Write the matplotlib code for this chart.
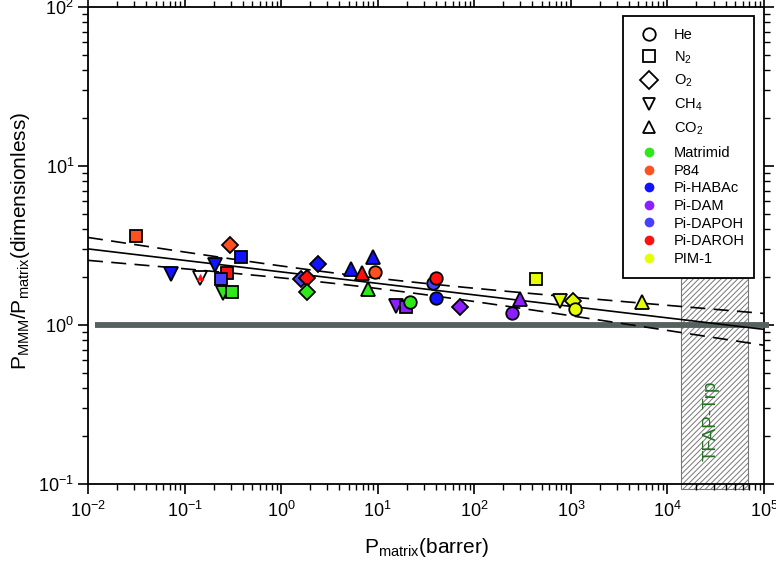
import numpy as np
import matplotlib
matplotlib.use("Agg")
import matplotlib.pyplot as plt
from matplotlib.patches import Rectangle
from matplotlib.lines import Line2D
from matplotlib.ticker import LogLocator, NullFormatter

plt.rcParams['font.family'] = ['Liberation Sans', 'DejaVu Sans']
plt.rcParams['mathtext.fontset'] = 'custom'
plt.rcParams['mathtext.rm'] = 'Liberation Sans'
plt.rcParams['mathtext.it'] = 'Liberation Sans'
plt.rcParams['mathtext.default'] = 'regular'
plt.rcParams['hatch.linewidth'] = 0.7
plt.rcParams['hatch.color'] = '#555555'

# ---------------- data ----------------
gases = ["He", "N2", "O2", "CH4", "CO2"]
gas_labels = ["He", "N$_2$", "O$_2$", "CH$_4$", "CO$_2$"]
materials = ["Matrimid", "P84", "Pi-HABAc", "Pi-DAM", "Pi-DAPOH", "Pi-DAROH", "PIM-1"]
material_colors = ["#2ee81a", "#ff5020", "#1212ff", "#8c1eff", "#4840ff", "#ff1010", "#e6ff00"]

pt_gas = ["N2", "O2", "N2", "CH4", "CH4", "CO2", "CH4", "N2", "N2", "CH4", "N2",
          "O2", "O2", "O2", "O2", "CO2", "CO2", "CO2", "He", "CO2", "CH4", "N2", "He",
          "He", "He", "He", "O2", "N2", "CO2", "He", "CH4", "O2", "He", "CO2"]
pt_mat = ["P84", "P84", "Pi-HABAc", "Pi-HABAc", "open", "Pi-DAROH", "Pi-HABAc", "Pi-DAROH",
          "Pi-DAPOH", "Matrimid", "Matrimid",
          "Pi-HABAc", "Pi-DAPOH", "Pi-DAROH", "Matrimid", "Pi-HABAc", "Pi-HABAc", "Pi-DAROH",
          "P84", "Matrimid", "Pi-DAM", "Pi-DAM", "Matrimid",
          "Pi-DAPOH", "Pi-DAROH", "Pi-HABAc", "Pi-DAM", "PIM-1", "Pi-DAM", "Pi-DAM",
          "PIM-1", "PIM-1", "PIM-1", "PIM-1"]
pt_x = [0.0313, 0.294, 0.382, 0.072, 0.144, 0.144, 0.206, 0.273, 0.237, 0.249, 0.308,
        2.39, 1.60, 1.84, 1.84, 5.25, 8.85, 6.81, 9.29, 7.87, 15.3, 19.4, 21.4,
        37.8, 40.6, 40.6, 70.3, 440, 300, 248, 778, 1062, 1112, 5480]
pt_y = [3.64, 3.19, 2.68, 2.10, 1.98, 2.01, 2.39, 2.13, 1.95, 1.59, 1.61,
        2.42, 1.95, 1.98, 1.61, 2.25, 2.68, 2.13, 2.16, 1.69, 1.32, 1.30, 1.40,
        1.84, 1.98, 1.48, 1.30, 1.95, 1.46, 1.19, 1.42, 1.42, 1.26, 1.40]

# power-law fit  y = 10**b * x**m  and its confidence band (in log10 units)
fit_slope = -0.0723
fit_logint = 0.334
band_a, band_b, band_c = 0.00103, 0.000517, 0.834

# TFAP-Trp permeability range
tfap_xmin, tfap_xmax = 1.38e4, 6.84e4
tfap_ymin, tfap_ymax = 0.093, 1.98

# ---------------- figure ----------------
W, H = 776, 562
fig = plt.figure(figsize=(W/100, H/100), dpi=100)
ax = fig.add_axes([88/W, 1-484/H, (764-88)/W, (484-7)/H])
ax.set_xscale('log')
ax.set_yscale('log')
ax.set_xlim(1e-2, 1e5)
ax.set_ylim(1e-1, 1e2)

gas_marker = {"He": "o", "N2": "s", "O2": "D", "CH4": "v", "CO2": "^"}
gas_size = {"He": 9, "N2": 9, "O2": 8, "CH4": 10, "CO2": 10}
mat_color = dict(zip(materials, material_colors))
mat_color["open"] = "white"

# hatched region
rect = Rectangle((tfap_xmin, tfap_ymin), tfap_xmax - tfap_xmin, tfap_ymax - tfap_ymin,
                 facecolor='none', edgecolor='#777777', hatch='//////', lw=0.8,
                 clip_on=False, zorder=1)
ax.add_patch(rect)
ax.text(np.sqrt(tfap_xmin*tfap_xmax)*0.92, 0.25, "TFAP-Trp", rotation=90, color='#237323',
        fontsize=13.5, ha='center', va='center', zorder=2)

# y = 1 reference line
ax.plot([0.0118, 1.13e5], [1, 1], color='#55605f', lw=4.2, clip_on=False, zorder=3,
        solid_capstyle='butt')

# fit line and band
lx = np.linspace(-2, 5, 300)
ly = fit_logint + fit_slope * lx
hw = np.sqrt(band_a + band_b * (lx - band_c) ** 2)
ax.plot(10**lx, 10**ly, color='black', lw=1.2, zorder=4)
ax.plot(10**lx, 10**(ly + hw), color='black', lw=1.2, dashes=(9, 5), zorder=4)
ax.plot(10**lx, 10**(ly - hw), color='black', lw=1.2, dashes=(9, 5), zorder=4)

# data points
for g, m, x, y in zip(pt_gas, pt_mat, pt_x, pt_y):
    if m == "Pi-DAROH" and g == "CO2" and x < 1:
        ax.plot(x, y, marker=gas_marker[g], ms=5, mfc=mat_color[m], mec=mat_color[m],
                mew=0.5, ls='none', zorder=6)
        continue
    ax.plot(x, y, marker=gas_marker[g], ms=gas_size[g], mfc=mat_color[m], mec='black',
            mew=1.3, ls='none', zorder=5)

# ticks
for axis in (ax.xaxis, ax.yaxis):
    axis.set_major_locator(LogLocator(base=10, numticks=20))
    axis.set_minor_locator(LogLocator(base=10, subs=np.arange(2, 10), numticks=20))
    axis.set_minor_formatter(NullFormatter())
ax.tick_params(which='major', direction='out', length=7, width=1.2, labelsize=13,
               top=True, right=True)
ax.tick_params(which='minor', direction='out', length=4, width=1.0, top=True, right=True)
ax.tick_params(axis='x', which='major', pad=5)
ax.tick_params(axis='y', which='major', pad=3)
for s in ax.spines.values():
    s.set_linewidth(1.3)

ax.set_xlabel("P$_{matrix}$(barrer)", fontsize=15)
ax.set_ylabel("P$_{MMM}$/P$_{matrix}$(dimensionless)", fontsize=15)
ax.xaxis.set_label_coords(0.5, -0.108)
ax.yaxis.set_label_coords(-0.083, 0.51)

# legend: frame + two stacked legends (gases, materials)
frame = Rectangle((623/W, 1-278/H), 131/W, 262/H, transform=fig.transFigure,
                  facecolor='white', edgecolor='black', lw=1.3, clip_on=False, zorder=9)
ax.add_patch(frame)

gas_handles = [Line2D([], [], marker=gas_marker[g], ms=9, mfc='white', mec='black',
                      mew=1.3, ls='none') for g in gases]
mat_handles = [Line2D([], [], marker='o', ms=6, mfc=c, mec=c, ls='none')
               for c in material_colors]

leg1 = ax.legend(gas_handles, gas_labels, loc='upper left',
                 bbox_to_anchor=(634/W, 1-28/H), bbox_transform=fig.transFigure,
                 fontsize=10.5, frameon=False, borderpad=0, borderaxespad=0,
                 labelspacing=0.5, handlelength=2.1, handletextpad=0.64)
leg1.set_zorder(10)
ax.add_artist(leg1)
leg2 = ax.legend(mat_handles, materials, loc='upper left',
                 bbox_to_anchor=(634/W, 1-146/H), bbox_transform=fig.transFigure,
                 fontsize=10.5, frameon=False, borderpad=0, borderaxespad=0,
                 labelspacing=0.25, handlelength=2.1, handletextpad=0.64)
leg2.set_zorder(10)

fig.savefig("out.png", dpi=100)
